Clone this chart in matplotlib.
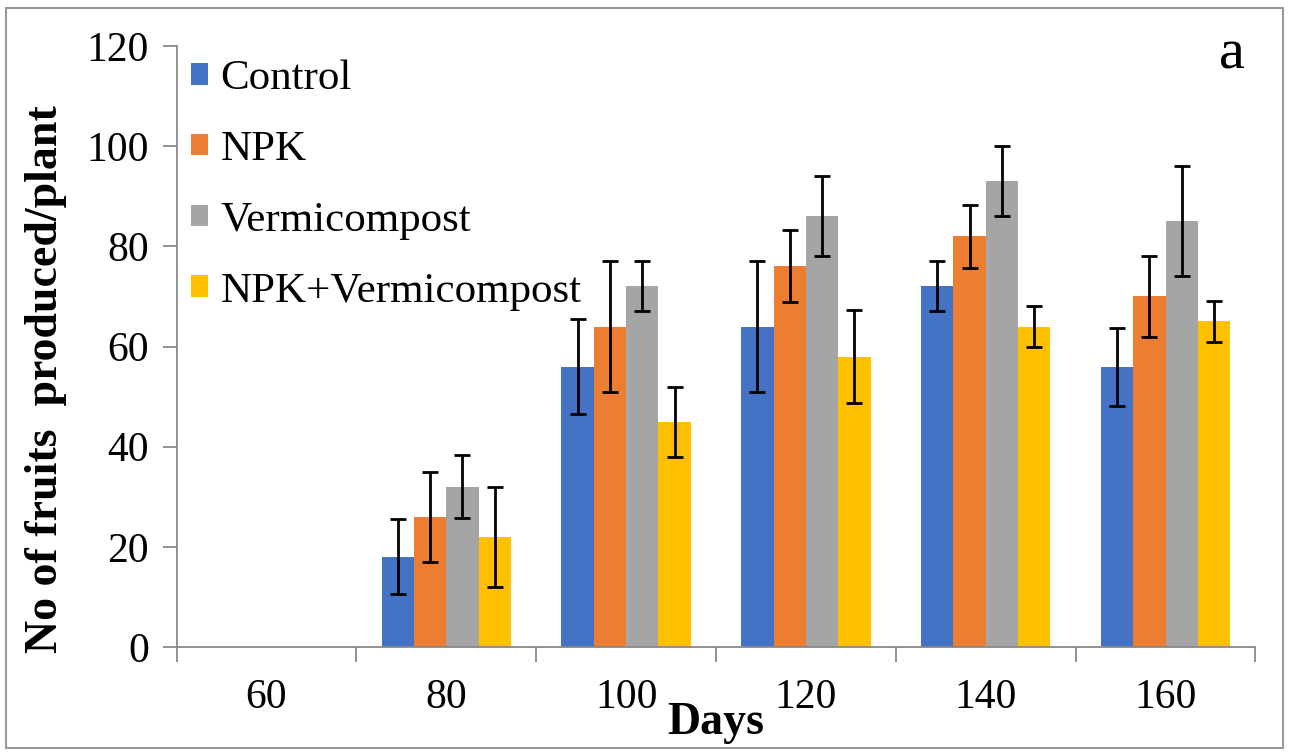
import matplotlib
matplotlib.use("Agg")
import matplotlib.pyplot as plt
import numpy as np
from matplotlib.patches import Rectangle

days = ["60", "80", "100", "120", "140", "160"]
series = ["Control", "NPK", "Vermicompost", "NPK+Vermicompost"]

control = [0, 18, 56, 64, 72, 56]
npk = [0, 26, 64, 76, 82, 70]
vermi = [0, 32, 72, 86, 93, 85]
npk_vermi = [0, 22, 45, 58, 64, 65]

control_err = [np.nan, 7.5, 9.5, 13, 5, 7.8]
npk_err = [np.nan, 9, 13, 7.2, 6.3, 8]
vermi_err = [np.nan, 6.3, 5, 8, 7, 11]
npk_vermi_err = [np.nan, 10, 7, 9.3, 4, 4]

colors = ["#4472C4", "#ED7D31", "#A5A5A5", "#FFC000"]

plt.rcParams["font.family"] = ["Liberation Serif", "DejaVu Serif"]

fig = plt.figure(figsize=(12.89, 7.53), dpi=100)
ax = fig.add_axes([0.137, 0.1408, 0.837, 0.798])

x = np.arange(len(days))
width = 0.18
values = [control, npk, vermi, npk_vermi]
errors = [control_err, npk_err, vermi_err, npk_vermi_err]
for i, (vals, errs) in enumerate(zip(values, errors)):
    pos = x + (i - 1.5) * width
    ax.bar(pos, vals, width, color=colors[i], label=series[i], zorder=2)
    ax.errorbar(pos, vals, yerr=errs, fmt="none", ecolor="black",
                elinewidth=2, capsize=6, capthick=2, zorder=3)

ax.set_xlim(-0.5, len(days) - 0.5)
ax.set_ylim(0, 120)
ax.set_yticks(np.arange(0, 121, 20))
ax.set_xticks(x)
ax.set_xticklabels(days)
ax.set_xticks(np.arange(-0.5, len(days), 1), minor=True)
ax.tick_params(axis="x", which="major", length=0, labelsize=30, pad=23)
ax.tick_params(axis="x", which="minor", length=11, width=1.3, color="#888888", direction="out")
ax.tick_params(axis="y", length=10, width=1.3, color="#888888", labelsize=30, pad=10)

for side in ["top", "right"]:
    ax.spines[side].set_visible(False)
for side in ["left", "bottom"]:
    ax.spines[side].set_color("#888888")
    ax.spines[side].set_linewidth(1.3)

ax.set_xlabel("Days", fontsize=33, fontweight="bold", labelpad=-11)
ax.set_ylabel("No of fruits  produced/plant", fontsize=33, fontweight="bold")
ax.yaxis.set_label_coords(-0.102, 0.445)

ax.legend(loc="upper left", bbox_to_anchor=(-0.003, 1.006), frameon=False,
          fontsize=31, handlelength=0.4, handleheight=0.4, handletextpad=0.3,
          labelspacing=0.75, borderaxespad=0)

ax.text(0.99, 1.03, "a", transform=ax.transAxes, fontsize=42,
        ha="right", va="top")

fig.patches.append(Rectangle((0.005, 0.006), 0.99, 0.984, transform=fig.transFigure,
                             fill=False, edgecolor="#999999", linewidth=1.5))

fig.savefig("out.png", dpi=100)
